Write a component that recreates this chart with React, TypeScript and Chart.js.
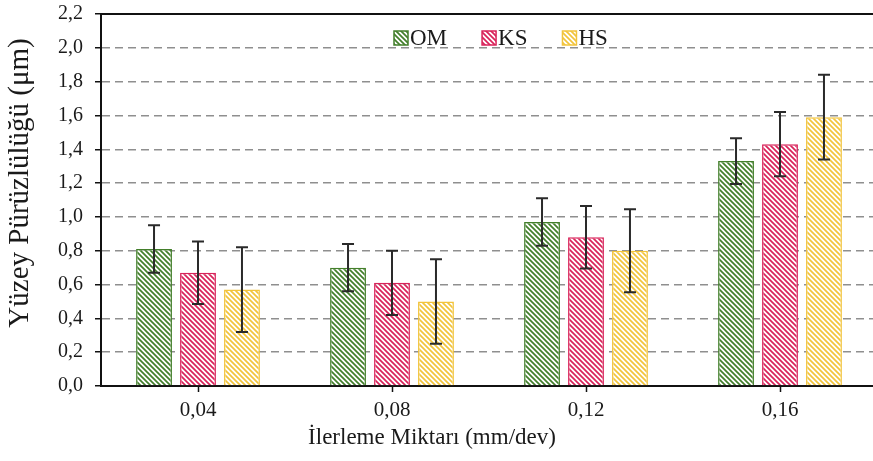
import React, { useEffect, useRef } from "react";
import { Chart, registerables } from "chart.js";

Chart.register(...registerables);

const categories = ["0,04", "0,08", "0,12", "0,16"];
const seriesNames = ["OM", "KS", "HS"];
const omValues = [0.81, 0.7, 0.97, 1.33];
const ksValues = [0.67, 0.61, 0.88, 1.43];
const hsValues = [0.57, 0.5, 0.8, 1.59];
const omErrors = [0.14, 0.14, 0.14, 0.135];
const ksErrors = [0.185, 0.19, 0.185, 0.19];
const hsErrors = [0.25, 0.25, 0.245, 0.25];
const seriesColors = ["#437f2b", "#d9235a", "#f2c43c"];
const yMin = 0;
const yMax = 2.2;
const yStep = 0.2;
const yTitle = "Yüzey Pürüzlülüğü (μm)";
const xTitle = "İlerleme Miktarı (mm/dev)";

const FONT = "'Liberation Serif', 'Times New Roman', serif";

function makeHatch(color: string): CanvasPattern | string {
  const s = 5;
  const c = document.createElement("canvas");
  c.width = s;
  c.height = s;
  const g = c.getContext("2d");
  if (!g) return color;
  g.fillStyle = "#ffffff";
  g.fillRect(0, 0, s, s);
  g.strokeStyle = color;
  g.lineWidth = 1.7;
  g.beginPath();
  g.moveTo(-1, -1);
  g.lineTo(s + 1, s + 1);
  g.moveTo(-1, s - 1);
  g.lineTo(1, s + 1);
  g.moveTo(s - 1, -1);
  g.lineTo(s + 1, 1);
  g.stroke();
  return g.createPattern(c, "repeat") || color;
}

export default function App() {
  const ref = useRef<HTMLCanvasElement | null>(null);

  useEffect(() => {
    const canvas = ref.current;
    if (!canvas) return;
    const values = [omValues, ksValues, hsValues];
    const errors = [omErrors, ksErrors, hsErrors];
    const patterns = seriesColors.map((c) => makeHatch(c));

    const errorBarPlugin = {
      id: "errorBars",
      afterDatasetsDraw(chart: any) {
        const ctx = chart.ctx as CanvasRenderingContext2D;
        const ys = chart.scales.y;
        ctx.save();
        ctx.strokeStyle = "#2a2a2a";
        ctx.lineWidth = 2;
        chart.data.datasets.forEach((ds: any, i: number) => {
          const meta = chart.getDatasetMeta(i);
          const errs = errors[i];
          meta.data.forEach((bar: any, j: number) => {
            const v = ds.data[j] as number;
            const e = errs[j];
            const x = bar.x;
            const yt = ys.getPixelForValue(v + e);
            const yb = ys.getPixelForValue(v - e);
            ctx.beginPath();
            ctx.moveTo(x, yt);
            ctx.lineTo(x, yb);
            ctx.moveTo(x - 6, yt);
            ctx.lineTo(x + 6, yt);
            ctx.moveTo(x - 6, yb);
            ctx.lineTo(x + 6, yb);
            ctx.stroke();
          });
        });
        ctx.restore();
      },
    };

    const frameLegendPlugin = {
      id: "frameLegend",
      afterDraw(chart: any) {
        const ctx = chart.ctx as CanvasRenderingContext2D;
        const a = chart.chartArea;
        ctx.save();
        // top frame line
        ctx.strokeStyle = "#111";
        ctx.lineWidth = 2;
        ctx.beginPath();
        ctx.moveTo(a.left - 1, a.top);
        ctx.lineTo(a.right, a.top);
        ctx.stroke();
        // axis titles
        ctx.fillStyle = "#1a1a1a";
        ctx.textAlign = "center";
        ctx.textBaseline = "middle";
        ctx.font = `23px ${FONT}`;
        ctx.fillText(xTitle, a.left + 331, a.bottom + 52);
        ctx.save();
        ctx.translate(20, a.top + 169);
        ctx.rotate(-Math.PI / 2);
        ctx.font = `29px ${FONT}`;
        ctx.fillText(yTitle, 0, 0);
        ctx.restore();
        // legend
        ctx.font = `23px ${FONT}`;
        ctx.textBaseline = "middle";
        ctx.textAlign = "left";
        const box = 14;
        const gap = 2;
        const itemGap = 35;
        let x = a.left + 293;
        const cy = a.top + 24;
        seriesNames.forEach((n, i) => {
          ctx.fillStyle = patterns[i] as any;
          ctx.fillRect(x, cy - box / 2, box, box);
          ctx.strokeStyle = seriesColors[i];
          ctx.lineWidth = 1.5;
          ctx.strokeRect(x, cy - box / 2, box, box);
          ctx.fillStyle = "#1a1a1a";
          ctx.fillText(n, x + box + gap, cy + 1);
          x += box + gap + ctx.measureText(n).width + itemGap;
        });
        ctx.restore();
      },
    };

    const chart = new Chart(canvas, {
      type: "bar",
      data: {
        labels: categories,
        datasets: seriesNames.map((name, i) => ({
          label: name,
          data: values[i],
          backgroundColor: patterns[i] as any,
          borderColor: seriesColors[i],
          borderWidth: 1.5,
          barPercentage: 0.816,
          categoryPercentage: 0.68,
        })),
      },
      options: {
        responsive: false,
        animation: false,
        events: [],
        layout: { padding: { top: 14, right: 3, left: 0, bottom: 0 } },
        plugins: {
          legend: { display: false },
          tooltip: { enabled: false },
        },
        scales: {
          x: {
            grid: {
              display: true,
              drawOnChartArea: false,
              drawTicks: true,
              tickLength: 6,
              tickColor: "#111",
              tickWidth: 1.5,
              offset: false,
            },
            border: { display: true, color: "#111", width: 2 },
            ticks: {
              color: "#1a1a1a",
              font: { family: FONT, size: 21 },
              padding: 6,
            },
            title: { display: false },
            afterFit(scale: any) {
              scale.height = 75;
            },
          },
          y: {
            min: yMin,
            max: yMax,
            ticks: {
              stepSize: yStep,
              color: "#1a1a1a",
              font: { family: FONT, size: 20 },
              padding: 12,
              callback: (v: any) => Number(v).toFixed(1).replace(".", ","),
            },
            grid: {
              display: true,
              drawTicks: true,
              tickLength: 6,
              tickColor: "#111",
              tickWidth: 1.5,
              lineWidth: 1.5,
              color: (c: any) => {
                const v = c.tick ? c.tick.value : 0;
                if (v <= 0.001 || v >= yMax - 0.001) return "rgba(0,0,0,0)";
                return "#8f8f8f";
              },
            },
            border: { display: true, color: "#111", width: 2, dash: [8, 5] },
            title: { display: false },
            afterFit(scale: any) {
              scale.width = 101;
              scale.paddingTop = 4;
              scale.paddingBottom = 4;
            },
          },
        },
      },
      plugins: [errorBarPlugin, frameLegendPlugin],
    });

    return () => {
      chart.destroy();
    };
  }, []);

  return (
    <div
      style={{
        position: "fixed",
        left: 0,
        top: 0,
        width: 873,
        height: 461,
        overflow: "hidden",
        background: "#fff",
      }}
    >
      <canvas ref={ref} width={880} height={461} style={{ width: 880, height: 461, display: "block" }} />
    </div>
  );
}
